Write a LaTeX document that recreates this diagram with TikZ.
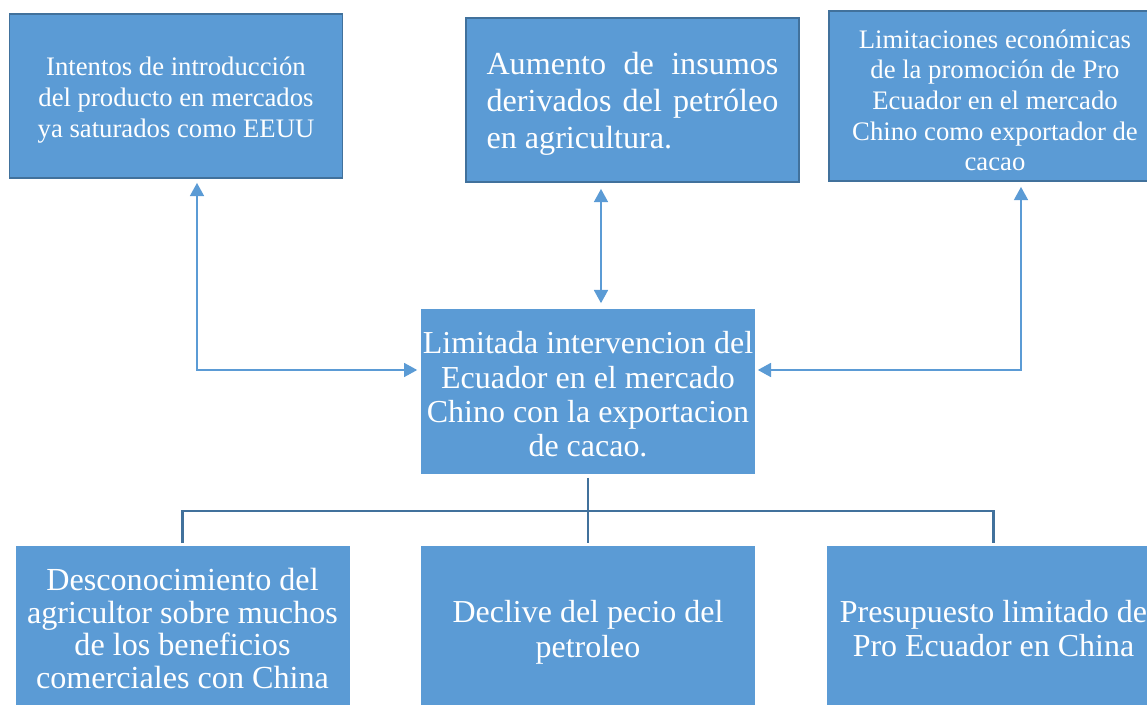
\documentclass[tikz,border=0pt]{standalone}
\usepackage{fontspec}
\setmainfont{Liberation Serif}
\usetikzlibrary{arrows.meta,calc}
\definecolor{azul}{HTML}{5B9BD5}
\definecolor{borde}{HTML}{41719C}

\begin{document}
\begin{tikzpicture}[x=0.02cm,y=-0.02cm,
	caja/.style={fill=azul,draw=azul,text=white,minimum width=6.66cm,minimum height=3.28cm,inner sep=0pt,text width=6.66cm,align=flush center},
	cajaborde/.style={caja,draw=borde,line width=1.1pt},
	baja/.style={execute at begin node={\rule{0pt}{#1}}},
	chico/.style={font=\fontsize{15.2pt}{17.6pt}\selectfont},
	grande/.style={font=\fontsize{18.2pt}{19.5pt}\selectfont},
	flecha/.style={draw=azul,line width=0.9pt,{Triangle[length=7.5pt,width=8pt]}-{Triangle[length=7.5pt,width=8pt]}},
	rama/.style={draw=borde,line width=1.2pt}]
	\clip (0,0) rectangle (1147,705);
	\useasboundingbox (0,0) rectangle (1147,705);
	\node[cajaborde,chico,baja=14.9pt] (intentos) at (176,96) {Intentos de introducción\\del producto en mercados\\ya saturados como EEUU};
	\node[cajaborde,font=\fontsize{18.3pt}{21pt}\selectfont,text width=5.84cm,align=justify,baja=17pt] (aumento) at (632.5,100) {Aumento de insumos derivados del petróleo en agricultura.};
	\node[cajaborde,minimum height=3.4cm,font=\fontsize{15.2pt}{17.4pt}\selectfont,baja=15.5pt] (limitaciones) at (995,96) {Limitaciones económicas\\de la promoción de Pro\\Ecuador en el mercado\\Chino como exportador de\\cacao};
	\node[caja,grande,baja=15.8pt] (centro) at (588,391.5) {Limitada intervencion del\\Ecuador en el mercado\\Chino con la exportacion\\de cacao.};
	\node[caja,font=\fontsize{18.3pt}{18.6pt}\selectfont] (desconocimiento) at (182.5,628.5) {Desconocimiento del\\agricultor sobre muchos\\de los beneficios\\comerciales con China};
	\node[caja,grande,baja=17pt] (declive) at (588,628.5) {Declive del pecio del\\petroleo};
	\node[caja,grande] (presupuesto) at (993.5,628.5) {Presupuesto limitado de\\Pro Ecuador en China};

	\draw[flecha,shorten <=0.08cm,shorten >=0.08cm] ($(intentos.south)+(21,0)$) |- ($(centro.west)+(0,-21.5)$);
	\draw[flecha,shorten <=0.12cm,shorten >=0.12cm] ($(aumento.south)+(-31.5,0)$) -- ($(centro.north)+(13,0)$);
	\draw[flecha,shorten <=0.1cm,shorten >=0.06cm] ($(limitaciones.south)+(26,0)$) |- ($(centro.east)+(0,-21.5)$);

	\coordinate (bif) at (588,511);
	\draw[rama,shorten <=0.06cm,shorten >=0.06cm] (desconocimiento.north) |- (bif) -| (presupuesto.north);
	\draw[rama,shorten <=0.08cm,shorten >=0.06cm] (centro.south) -- (declive.north);
\end{tikzpicture}
\end{document}
